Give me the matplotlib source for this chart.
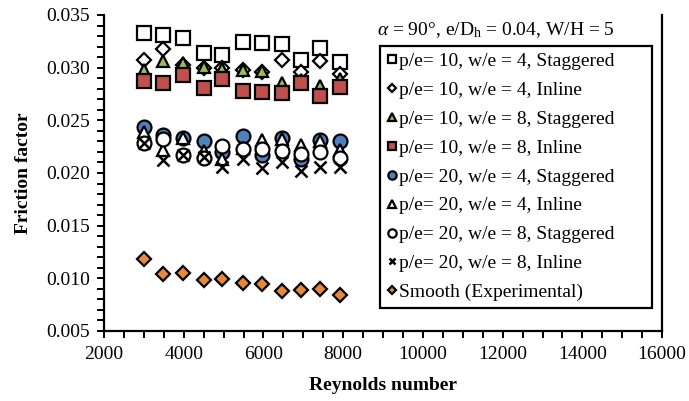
import numpy as np
import matplotlib
matplotlib.use("Agg")
import matplotlib.pyplot as plt
from matplotlib.ticker import MultipleLocator, FormatStrFormatter

plt.rcParams['font.family'] = ['Liberation Serif', 'DejaVu Serif']
plt.rcParams['mathtext.fontset'] = 'custom'
plt.rcParams['mathtext.rm'] = 'Liberation Serif'
plt.rcParams['mathtext.it'] = 'Liberation Serif:italic'

# Reynolds numbers (same for every series)
re = [3000, 3490, 3970, 4510, 4950, 5480, 5960, 6470, 6940, 7430, 7920]

p10_w4_stag = [0.0333, 0.0331, 0.0328, 0.0314, 0.0312, 0.0324, 0.0323, 0.0322, 0.0307, 0.0319, 0.0305]
p10_w4_inl = [0.0307, 0.0318, 0.0303, 0.0300, 0.0300, 0.0298, 0.0296, 0.0307, 0.0296, 0.0306, 0.0294]
p10_w8_stag = [0.0298, 0.0306, 0.0304, 0.0301, 0.0299, 0.0298, 0.0297, 0.0285, 0.0288, 0.0283, 0.0289]
p10_w8_inl = [0.0287, 0.0285, 0.0293, 0.0281, 0.0289, 0.0278, 0.0277, 0.0276, 0.0285, 0.0273, 0.0282]
p20_w4_stag = [0.0244, 0.0236, 0.0233, 0.0230, 0.0220, 0.0235, 0.0217, 0.0233, 0.0213, 0.0231, 0.0230]
p20_w4_inl = [0.0239, 0.0222, 0.0233, 0.0221, 0.0213, 0.0224, 0.0231, 0.0232, 0.0227, 0.0230, 0.0222]
p20_w8_stag = [0.0228, 0.0232, 0.0217, 0.0214, 0.0226, 0.0223, 0.0223, 0.0221, 0.0218, 0.0220, 0.0214]
p20_w8_inl = [0.0228, 0.0212, 0.0217, 0.0215, 0.0206, 0.0213, 0.0205, 0.0210, 0.0202, 0.0206, 0.0206]
smooth = [0.0118, 0.0104, 0.0105, 0.0098, 0.0099, 0.0096, 0.0095, 0.0088, 0.0089, 0.0090, 0.0084]

labels = ["p/e= 10, w/e = 4, Staggered",
          "p/e= 10, w/e = 4, Inline",
          "p/e= 10, w/e = 8, Staggered",
          "p/e= 10, w/e = 8, Inline",
          "p/e= 20, w/e = 4, Staggered",
          "p/e= 20, w/e = 4, Inline",
          "p/e= 20, w/e = 8, Staggered",
          "p/e= 20, w/e = 8, Inline",
          "Smooth (Experimental)"]

series = [p10_w4_stag, p10_w4_inl, p10_w8_stag, p10_w8_inl,
          p20_w4_stag, p20_w4_inl, p20_w8_stag, p20_w8_inl, smooth]

# marker, face colour, size
styles = [("s", "white", 10),
          ("D", "white", 7),
          ("^", "#9BBB59", 9),
          ("s", "#C0504D", 10),
          ("o", "#4F81BD", 10),
          ("^", "white", 9),
          ("o", "white", 10),
          ("x", "black", 8),
          ("D", "#E8883A", 7)]

fig = plt.figure(figsize=(6.89, 4.01), dpi=100)
ax = fig.add_axes([0.151, 0.1746, 0.810, 0.788])

for ys, lab, (m, fc, ms) in zip(series, labels, styles):
    if m == "x":
        ax.plot(re, ys, ls="none", marker=m, ms=ms, mew=1.8, color="black", label=lab)
    else:
        ax.plot(re, ys, ls="none", marker=m, ms=ms, mfc=fc, mec="black", mew=1.6, label=lab)

ax.set_xlim(2000, 16000)
ax.set_ylim(0.005, 0.035)
ax.xaxis.set_major_locator(MultipleLocator(2000))
ax.xaxis.set_minor_locator(MultipleLocator(500))
ax.yaxis.set_major_locator(MultipleLocator(0.005))
ax.yaxis.set_minor_locator(MultipleLocator(0.001))
ax.yaxis.set_major_formatter(FormatStrFormatter("%.3f"))

ax.spines["top"].set_visible(False)
for s in ["left", "bottom", "right"]:
    ax.spines[s].set_linewidth(1.6)
ax.tick_params(which="both", direction="out", width=1.4, labelsize=14, right=False, top=False)
ax.tick_params(which="major", length=5)
ax.tick_params(which="minor", length=5)
ax.tick_params(axis="x", pad=6)
ax.tick_params(axis="y", pad=5)

ax.set_xlabel("Reynolds number", fontsize=14, fontweight="bold", labelpad=10)
ax.set_ylabel("Friction factor", fontsize=14, fontweight="bold", labelpad=10)

ax.text(0.7025, 0.952, r"$\alpha$ = 90°, e/D$_\mathrm{h}$ = 0.04, W/H = 5",
        transform=ax.transAxes, ha="center", va="center", fontsize=14)

leg = ax.legend(loc="lower left", bbox_to_anchor=(0.4946, 0.0728, 0.4874, 0.823),
                mode="expand", borderaxespad=0, fontsize=14, markerscale=0.6,
                handlelength=0.5, handletextpad=0.12, labelspacing=0.58, borderpad=0.35,
                fancybox=False, framealpha=1, edgecolor="black")
leg.get_frame().set_linewidth(1.6)

fig.savefig("out.png", dpi=100)
